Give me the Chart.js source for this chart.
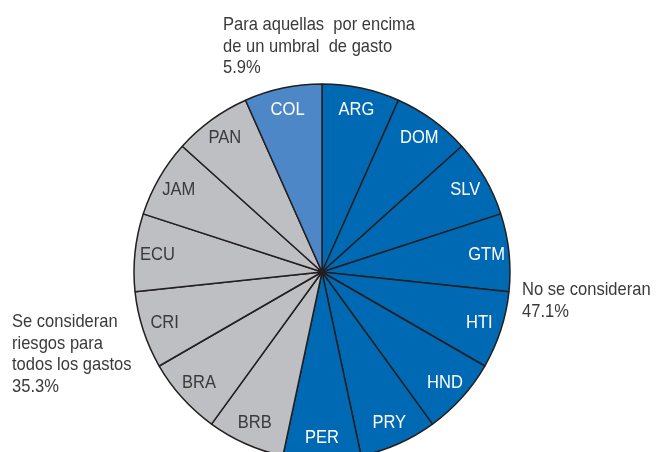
<!DOCTYPE html>
<html>
<head>
<meta charset="utf-8">
<script src="https://cdn.jsdelivr.net/npm/chart.js@4/dist/chart.umd.min.js"></script>
<style>
html, body { margin: 0; padding: 0; overflow: hidden; background: #fff; width: 657px; height: 452px; }
#wrap { position: absolute; left: 0; top: 0; width: 657px; height: 544px; }
</style>
</head>
<body>
<div id="wrap"><canvas id="c"></canvas></div>
<script>
const countries = ["ARG","DOM","SLV","GTM","HTI","HND","PRY","PER","BRB","BRA","CRI","ECU","JAM","PAN","COL"];
const shares = [5.9,5.9,5.9,5.9,5.9,5.9,5.9,5.9,5.9,5.9,5.9,5.9,5.9,5.9,5.9];
const groups = ["no","no","no","no","no","no","no","no","all","all","all","all","all","all","threshold"];
const groupColors = { no: "#0069b4", all: "#bebfc3", threshold: "#4e87c7" };
const groupTextColors = { no: "#ffffff", all: "#3a3a3c", threshold: "#ffffff" };
const annotations = [
  { lines: ["Para aquellas  por encima", "de un umbral  de gasto", "5.9%"], x: 223, y: 30 },
  { lines: ["No se consideran", "47.1%"], x: 522, y: 295 },
  { lines: ["Se consideran", "riesgos para", "todos los gastos", "35.3%"], x: 12, y: 327 }
];

const FONT = '19px "Liberation Sans", Arial, sans-serif';
const SX = 0.87;

function narrowText(ctx, t, x, y) {
  ctx.save();
  ctx.translate(x, y);
  ctx.scale(SX, 1);
  ctx.fillText(t, 0, 0);
  ctx.restore();
}

const labelPlugin = {
  id: 'labels',
  afterDatasetsDraw(chart) {
    const ctx = chart.ctx;
    const meta = chart.getDatasetMeta(0);
    ctx.save();
    ctx.font = FONT;
    ctx.textAlign = 'center';
    ctx.textBaseline = 'middle';
    meta.data.forEach((arc, i) => {
      const p = arc.getProps(['x','y','startAngle','endAngle','outerRadius'], true);
      const mid = (p.startAngle + p.endAngle) / 2;
      const r = p.outerRadius * 0.88;
      ctx.fillStyle = groupTextColors[groups[i]];
      narrowText(ctx, countries[i], p.x + Math.cos(mid) * r, p.y + Math.sin(mid) * r);
    });
    ctx.textAlign = 'left';
    ctx.textBaseline = 'alphabetic';
    ctx.fillStyle = '#3a3a3c';
    annotations.forEach(a => {
      a.lines.forEach((t, k) => narrowText(ctx, t, a.x, a.y + k * 21.6));
    });
    ctx.restore();
  }
};

new Chart(document.getElementById('c'), {
  type: 'pie',
  data: {
    labels: countries,
    datasets: [{
      data: shares,
      backgroundColor: groups.map(g => groupColors[g]),
      borderColor: '#231f20',
      borderWidth: 1.5,
      radius: 188
    }]
  },
  options: {
    responsive: true,
    maintainAspectRatio: false,
    animation: false,
    layout: { padding: { left: 0, right: 13, top: 0, bottom: 0 } },
    plugins: { legend: { display: false }, tooltip: { enabled: false } },
    events: []
  },
  plugins: [labelPlugin]
});
</script>
</body>
</html>
